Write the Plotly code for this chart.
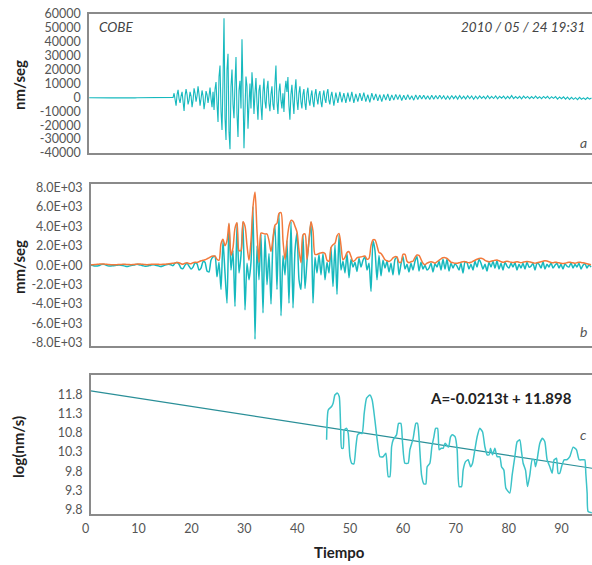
import plotly.graph_objects as go

# ---------------- data ----------------
# Panel a: velocity seismogram (nm/seg)
# pre-event segment (every 2 samples)
vel_a_pre = [
    -300, -350, -300, -400, -350, -300, -350, -400, -300, -250,
    -300, -350, -300, -350, -400, -350, -300, -350, -300, -250,
    -300, -350, -400, -350, -300, -300, -350, -300, -350, -400,
    -350, -300, -300, -250, -300, -350, -300, -350, -400, -300,
    -200, -300,
]
# main shaking (every sample)
vel_a_main = [
    0, 3000, -2000, -6000, 2000, 5500, -1000, -4000, 1000, 4000,
    -3000, -9800, 1000, 6000, 2000, -5000, -2000, 4000, 1000, -7000,
    -2000, 6500, 3000, -3000, 1000, 8000, 2000, -6000, -1000, 5000,
    1000, -8500, -3000, 4500, 2000, -4000, 1000, 7000, -1000, -7000,
    4000, -9000, 6000, 11000, -5000, -17700, 15000, 23000, -10000, -23500,
    12000, 57000, -15000, -30600, 20000, 31400, -25000, -37300, 8000, 20000,
    -5000, -15000, 10000, 29000, -12000, -28500, 5000, 12000, -8000, 41800,
    5000, -36500, -10000, 15000, 8000, -22500, -5000, 10000, -8000, 18000,
    6000, -12000, 3000, 14000, -4000, -16000, 5000, 9000, -6000, -16300,
    4000, 13500, -3000, -8000, 6000, 12000, -4000, -10000, 2000, 8000,
    -5000, -9000, 10000, 23000, -3000, -12000, 4000, 10000, -2000, -8000,
    3000, -10500, 5000, 12000, 4000, 14600, -6000, -16000, 2000, 9000,
    -3000, -12000, 5000, 13000, -2000, -9000, 3000, 8000, -3000, -8000,
    2000, 6000, -4000, -9000, 3000, 7000, -2000, -6000, 1000, 5000,
    -3000, -7000, 2000, 6000, -1000, -5000, 2000, 4500, -3000, -7000,
    1000, 5000, -1000, -4000, 3000, 6000, -2000, -5000, 1000, 4000,
]
# coda (every 2 samples)
vel_a_coda = [
    -6000, 3500, -4000, 4000, -3500, 3000, -4000, 3500, -3000, 4000,
    -4000, 2500, -3000, 3000, -2500, 3500, -3000, 2000, -3500, 3000,
    -2000, 2500, -2500, 2000, -3000, 2200, -2000, 2500, -2400, 1800,
    -2000, 2200, -1500, 2000, -2200, 1500, -1800, 2000, -1500, 1200,
    -2000, 1800, -1500, 1500, -1200, 1600, -1400, 1200, -1600, 1500,
    -1400, 1300, -1200, 1500, -1000, 1200, -1500, 1000, -1300, 1400,
    -900, 1100, -1200, 1300, -1000, 900, -1100, 1200, -800, 1000,
    -1300, 900, -1000, 1100, -700, 800, -1000, 1200, -900, 700,
    -800, 1000, -1100, 800, -600, 900, -1000, 700, -800, 1300,
    -900, 600, -700, 800, -1000, 900, -600, 700, -900, 600,
    -800, 900, -700, 500, -900, 700, -600, 800, -1000, 500,
    -700, 600, -1200, 300, -900, 400, -1300, 200, -1500, 100,
    -1400, -200, -1600, 0, -1300, -300, -1500, -100, -1200, -400,
]

# Panel b: displacement (mm/seg) and its envelope, uniform samples
disp_b = [
    0, -50, -100, -80, -50, 50, 100, 50, -50, -100,
    -80, -60, -40, 0, 20, 0, -50, -100, -150, -100,
    -50, 0, 50, 80, 50, 0, -60, -120, -100, -50,
    0, 40, 20, -40, -100, -150, -80, 0, 60, 100,
    40, -50,
    200, 280, 100, -300, -350, 0, 200, -100, -400, -200,
    250, 150, -500, -300, 350, 300, -600, -700, 500, 850,
    900, -1200, 300, -2500, 2500, -800, -3900, 4200, -500, 1500,
    -4250, 4300, -800, 1000, 4400, -4600, 200, -1500, 300, 6000,
    -7600, 2000, -1500, 3200, -4900, 3100, -2000, 1200, -4000, 2500,
    4000, -2500, 5300, -5200, 1000, -1000, 2500, -3900, 4500, -4400,
    1500, 3300, -1500, -2500, 3100, -2400, 400, 2500, 4400, -3900,
    800, -800, 1100, -1000, 1200, -1500, 300, -800, 1800, -2200,
    2100, -3000, 3100, -500, 400, -800, 1200, -1300, 600, -200,
    300, -650, 700, -200, 500, 850, -500, 200, -2700, 2500,
    1500, -1500, 1000, -1100, 500, -300, 400, -700, 200, -1000,
    600, 800, -1000, 100, 900, -400, 100, -700, 200, -500,
    400, 900, -600, 300, -400, 0, -500,
    -300, 200, -700, 150, -200, 400, -500, 600, -400, 600,
    -600, 200, -300, 150, -100, -500, 200, -800, 300, 250,
    -400, 100, -500, 400, -200, 600, 200, -400, 100, -600,
    300, -200, 400, -300, 450, -400, 200, -500, 300, -100,
    -300, 200, -200, 250, -500, 100, -300, 200, -400, 300,
    -200, -100, 200, -500, 200, 100, -300, 350, -400, 100,
    -200, 250, -300, 0, 200, -300, 100, -400, 150, -100,
    -200, 250, -300, 100, -200, 200, -400, 0, 150, -300,
    50, -200,
]

envelope_b = [
    50, 50, 60, 80, 100, 120, 120, 100, 80, 60,
    50, 50, 40, 50, 60, 70, 80, 80, 70, 60,
    50, 60, 80, 100, 120, 100, 80, 60, 50, 60,
    80, 100, 100, 90, 80, 70, 80, 100, 120, 150,
    180, 200,
    220, 280, 250, 150, 100, 200, 250, 180, 150, 250,
    300, 280, 350, 450, 500, 550, 650, 750, 880, 930,
    940, 600, 500, 2200, 2650, 2000, 2500, 4300, 1000, 1800,
    3800, 4350, 1500, 1500, 4450, 4000, 2000, 500, 2500, 6000,
    7500, 3500, 300, 3300, 3260, 3200, 3200, 2500, 1400, 2800,
    4100, 4300, 5300, 5400, 2500, 600, 2500, 4000, 4600, 4500,
    4000, 3400, 1500, 250, 3100, 3200, 600, 2600, 4450, 3500,
    1100, 1100, 1200, 1250, 1300, 1200, 500, 400, 1800, 2100,
    2250, 3000, 3260, 2000, 550, 800, 1300, 1380, 900, 380,
    500, 750, 810, 850, 900, 940, 600, 700, 2000, 2600,
    2600, 2000, 1300, 1200, 900, 550, 450, 370, 500, 750,
    870, 850, 300, 300, 1100, 1100, 400, 250, 350, 400,
    800, 1040, 1000, 600, 200, 50, 200,
    300, 350, 300, 200, 350, 500, 650, 750, 770, 700,
    500, 300, 250, 200, 190, 250, 300, 350, 360, 300,
    250, 300, 400, 500, 600, 680, 700, 650, 500, 400,
    350, 400, 450, 500, 530, 450, 350, 300, 350, 400,
    350, 300, 260, 300, 350, 300, 250, 300, 350, 380,
    350, 300, 250, 200, 250, 300, 350, 400, 450, 420,
    350, 280, 250, 300, 280, 250, 200, 180, 200, 250,
    300, 280, 250, 200, 250, 300, 280, 250, 200, 150,
    100, 50,
]

# Panel c: log amplitude vs time, with linear fit A = -0.0213 t + 11.898
time_c = [
    44.61, 44.92, 45.56, 45.86, 46.18, 46.62, 47.00, 47.26, 47.45, 47.75,
    47.94, 48.39, 48.70, 49.02, 49.34, 49.77, 50.15, 50.47, 50.91, 51.34,
    51.72, 52.17, 52.80, 53.23, 53.74, 54.18, 54.69, 55.31, 55.82, 56.26,
    56.58, 56.90, 57.20, 57.84, 58.22, 58.66, 58.98, 59.41, 60.04, 60.36,
    60.98, 61.49, 61.81, 62.12, 62.57, 63.00, 63.38, 63.63, 64.14, 64.52,
    64.90, 65.22, 65.60, 65.90, 66.28, 66.65, 67.03, 67.67, 68.05, 68.43,
    68.92, 69.30, 69.68, 70.13, 70.43, 70.89, 71.38, 71.83, 72.21, 72.65,
    73.08, 73.59, 74.10, 74.54, 74.97, 75.35, 75.61, 75.99, 76.43, 76.86,
    77.37, 77.69, 78.13, 78.51, 79.26, 79.70, 80.21, 80.64, 81.15, 81.47,
    81.78, 82.23, 82.61, 83.04, 83.48, 83.86, 84.12, 84.42, 84.93, 85.44,
    85.88, 86.31, 86.82, 87.26, 87.64, 88.09, 88.39, 88.71, 89.04, 89.53,
    90.04, 90.60, 91.23, 91.87, 92.36, 93.01, 93.44, 93.63, 93.88, 94.06,
    94.77,
]
log_amp_c = [
    10.62, 11.40, 11.49, 11.58, 11.79, 11.84, 11.75, 10.96, 10.40, 10.40,
    10.88, 10.92, 10.79, 10.18, 10.01, 9.99, 10.44, 10.75, 10.79, 10.79,
    11.31, 11.71, 11.79, 11.66, 11.14, 10.62, 10.18, 10.18, 10.27, 9.66,
    9.66, 10.44, 10.62, 10.75, 11.05, 11.05, 10.53, 10.01, 10.01, 10.36,
    10.66, 11.05, 11.05, 10.62, 9.70, 9.47, 9.47, 9.92, 10.01, 10.44,
    10.70, 10.92, 10.92, 10.36, 10.40, 10.40, 10.53, 10.43, 10.70, 10.75,
    10.70, 10.36, 9.40, 9.40, 9.83, 10.05, 10.10, 9.92, 10.01, 10.36,
    10.70, 10.92, 10.83, 10.44, 10.23, 10.23, 10.40, 10.23, 10.40, 10.18,
    10.18, 9.92, 9.83, 9.36, 9.23, 9.70, 10.18, 10.57, 10.62, 10.31,
    10.01, 9.83, 9.40, 9.70, 10.10, 10.10, 9.92, 10.10, 10.53, 10.66,
    10.57, 10.10, 9.92, 9.75, 10.10, 10.14, 9.75, 9.75, 9.92, 10.10,
    10.10, 10.18, 10.43, 10.36, 10.10, 10.10, 10.10, 9.75, 9.23, 8.75,
    8.72,
]
fit_slope = -0.0213
fit_intercept = 11.898
fit_t = [0, 94.8]

tick_a_vals = [60000, 50000, 40000, 30000, 20000, 10000, 0, -10000, -20000, -30000, -40000]
tick_a_text = ["60000", "50000", "40000", "30000", "20000", "10000", "0",
               "-10000", "-20000", "-30000", "-40000"]
tick_b_vals = [8000, 6000, 4000, 2000, 0, -2000, -4000, -6000, -8000]
tick_b_text = ["8.0E+03", "6.0E+03", "4.0E+03", "2.0E+03", "0.0E+00",
               "-2.0E+03", "-4.0E+03", "-6.0E+03", "-8.0E+03"]
tick_c_vals = [11.8, 11.3, 10.8, 10.3, 9.8, 9.3, 8.8]
tick_c_text = ["11.8", "11.3", "10.8", "10.3", "9.8", "9.3", "9.8"]
tick_cx_vals = [0, 10, 20, 30, 40, 50, 60, 70, 80, 90]

# sample index for panel a (pre-event and coda decimated by 2)
n_pre = len(vel_a_pre)
n_main = len(vel_a_main)
t_a = ([2 * i for i in range(n_pre)]
       + [2 * n_pre + i for i in range(n_main)]
       + [2 * n_pre + n_main + 1 + 2 * i for i in range(len(vel_a_coda))])
vel_a = vel_a_pre + vel_a_main + vel_a_coda

# ---------------- figure ----------------
W, H = 592, 565
CYAN = "#16b9be"
ORANGE = "#f27a3c"
TREND = "#2a8f98"
FONT = "Lato"
GRAY = "#555555"


def px(x):
    return x / W


def py(y):
    return 1 - y / H


fig = go.Figure()

fig.add_trace(go.Scatter(x=t_a, y=vel_a, mode="lines",
                         line=dict(color=CYAN, width=1.1), xaxis="x", yaxis="y",
                         showlegend=False))
fig.add_trace(go.Scatter(x=list(range(len(disp_b))), y=disp_b, mode="lines",
                         line=dict(color=CYAN, width=1.5, shape="spline", smoothing=0.6),
                         xaxis="x2", yaxis="y2", showlegend=False))
fig.add_trace(go.Scatter(x=list(range(len(envelope_b))), y=envelope_b, mode="lines",
                         line=dict(color=ORANGE, width=1.5, shape="spline", smoothing=0.8),
                         xaxis="x2", yaxis="y2", showlegend=False))
fig.add_trace(go.Scatter(x=fit_t, y=[fit_intercept + fit_slope * t for t in fit_t],
                         mode="lines", line=dict(color=TREND, width=1.2),
                         xaxis="x3", yaxis="y3", showlegend=False))
fig.add_trace(go.Scatter(x=time_c, y=log_amp_c, mode="lines",
                         line=dict(color="#3cc3c8", width=1.5, shape="spline", smoothing=0.5),
                         xaxis="x3", yaxis="y3", showlegend=False))

axline = dict(showline=True, linecolor="#8a8a8a", linewidth=1.5, mirror=True,
              showgrid=False, zeroline=False, automargin=False)
tickfont = dict(family=FONT, size=12.5, color=GRAY)

fig.update_layout(
    template="none",
    width=W, height=H,
    margin=dict(l=0, r=0, t=0, b=0, pad=0),
    paper_bgcolor="white", plot_bgcolor="white",
    xaxis=dict(domain=[px(89), 1.0], range=[-0.2, max(t_a) + 0.5], showticklabels=False,
               ticks="", anchor="y", **axline),
    yaxis=dict(domain=[py(153), py(14)], range=[-40000, 60000], tickvals=tick_a_vals,
               ticktext=tick_a_text, ticks="", tickfont=tickfont, anchor="x",
               ticklabelstandoff=4, **axline),
    xaxis2=dict(domain=[px(90.7), 1.0], range=[-0.15, 250.5], showticklabels=False,
                ticks="", anchor="y2", **axline),
    yaxis2=dict(domain=[py(346), py(184.3)], range=[-8300, 8300], tickvals=tick_b_vals,
                ticktext=tick_b_text, ticks="", tickfont=tickfont, anchor="x2",
                ticklabelstandoff=4, **axline),
    xaxis3=dict(domain=[px(90.7), 1.0], range=[0, 94.8], tickvals=tick_cx_vals,
                ticks="", tickfont=tickfont, anchor="y3", ticklabelshift=-5,
                ticklabelstandoff=2, **axline),
    yaxis3=dict(domain=[py(514), py(374.7)], range=[8.685, 12.32], tickvals=tick_c_vals,
                ticktext=tick_c_text, ticks="", tickfont=tickfont, anchor="x3",
                ticklabelstandoff=4, **axline),
)

ann = []


def add_text(text, x, y, size=13, bold=False, italic=False, angle=0, xanchor="center",
             color="#333333"):
    t = text
    if bold:
        t = "<b>" + t + "</b>"
    if italic:
        t = "<i>" + t + "</i>"
    ann.append(dict(text=t, x=px(x), y=py(y), xref="paper", yref="paper", showarrow=False,
                    xanchor=xanchor, yanchor="middle", textangle=angle,
                    font=dict(family=FONT, size=size, color=color)))


add_text("nm/seg", 19, 85, size=15, bold=True, angle=-90, color="#222222")
add_text("mm/seg", 19, 267, size=15, bold=True, angle=-90, color="#222222")
add_text("log(nm/s)", 18, 447, size=15, bold=True, angle=-90, color="#222222")
add_text("Tiempo", 339, 552, size=15, bold=True, color="#222222")
add_text("COBE", 97, 27, size=13.5, italic=True, xanchor="left", color="#444444")
add_text("2010 / 05 / 24 19:31", 587, 27, size=13.5, italic=True, xanchor="right",
         color="#444444")
add_text("a", 583, 142, size=14, italic=True, color="#555555")
add_text("b", 583, 331, size=14, italic=True, color="#555555")
add_text("c", 583, 434, size=14, italic=True, color="#555555")
add_text("A=-0.0213t + 11.898", 501, 398, size=15, bold=True, color="#222222")

fig.update_layout(annotations=ann)
fig.write_html(
    "out.html",
    config={"displayModeBar": False},
    post_script="document.body.style.margin='0';document.body.style.overflow='hidden';",
)
